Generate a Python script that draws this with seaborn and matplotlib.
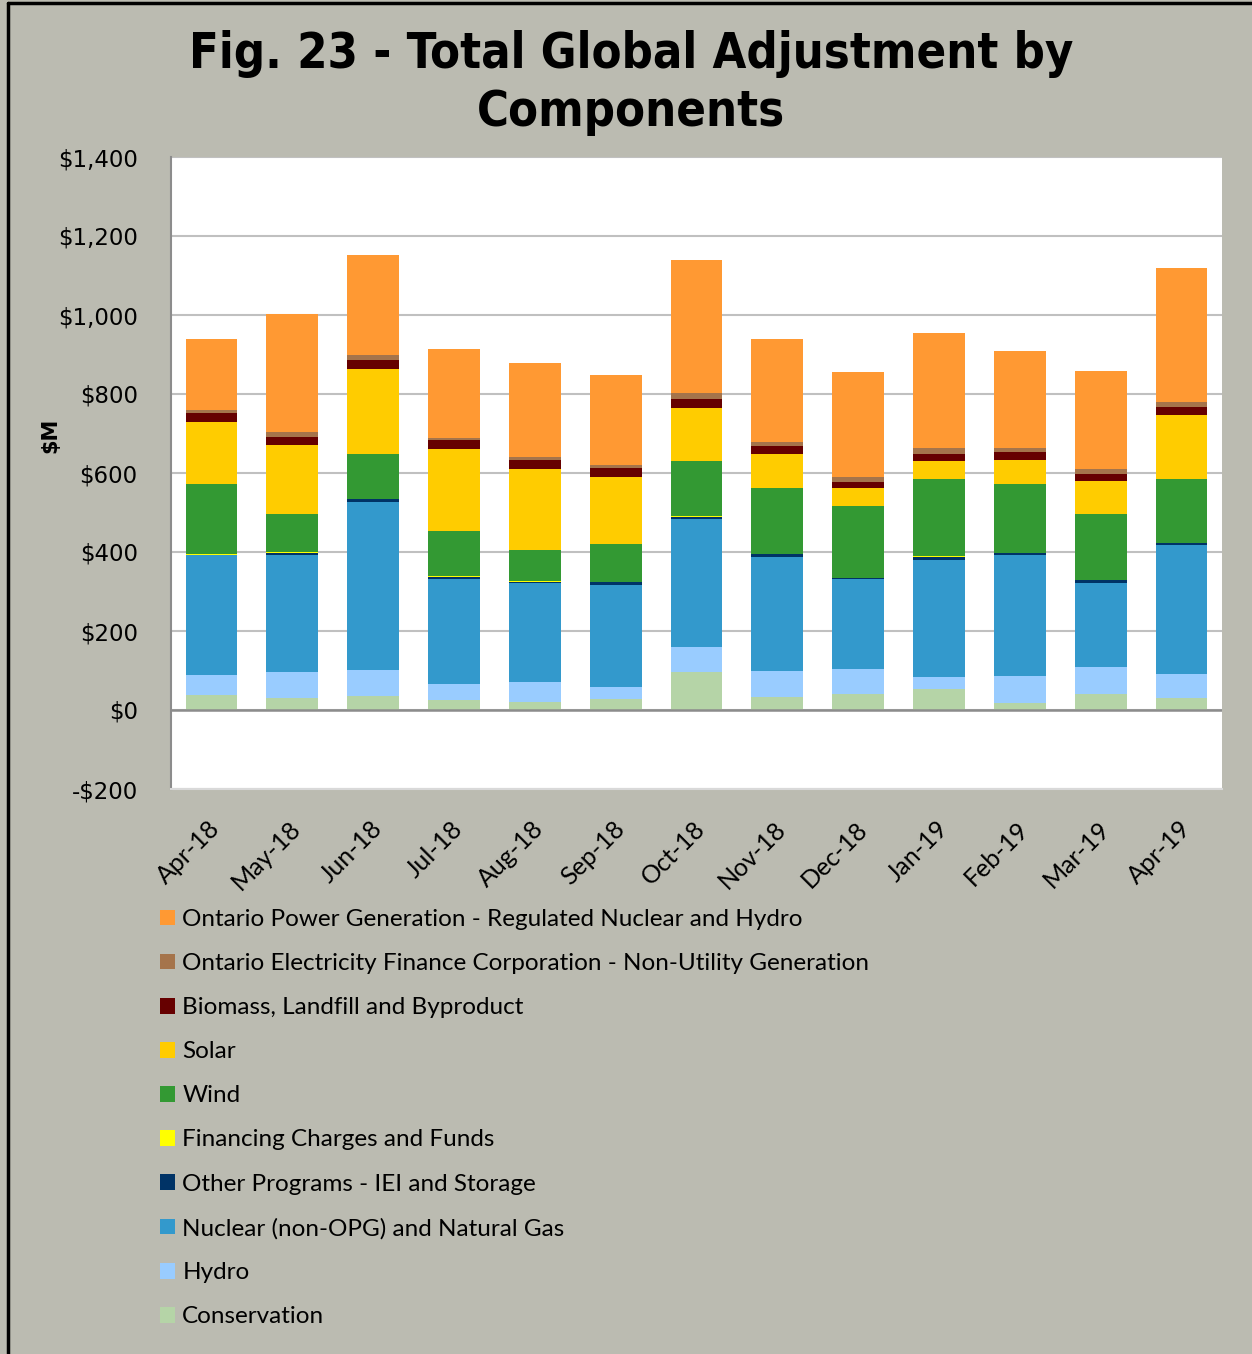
import numpy as np
import pandas as pd
import seaborn as sns
import matplotlib.pyplot as plt
import matplotlib.transforms as mtransforms
from matplotlib.lines import Line2D
from matplotlib.patches import Patch
from matplotlib.ticker import FuncFormatter

# datos ($M)
months = ["Apr-18", "May-18", "Jun-18", "Jul-18", "Aug-18", "Sep-18", "Oct-18",
          "Nov-18", "Dec-18", "Jan-19", "Feb-19", "Mar-19", "Apr-19"]

conservation = [37, 31, 36, 25, 20, 27, 95, 34, 41, 54, 17, 40, 30]
hydro = [52, 65, 65, 41, 51, 31, 64, 65, 63, 30, 69, 69, 61]
nuclear_gas = [303, 296, 426, 266, 250, 258, 324, 289, 228, 297, 306, 213, 326]
other_programs = [1, 6, 7, 5, 4, 7, 6, 7, 1, 6, 5, 6, 5]
financing = [1, 1, 1, 1, 1, 1, 1, 1, 1, 2, 1, 1, 1]
wind = [178, 96, 112, 114, 78, 96, 140, 167, 183, 195, 173, 167, 163]
solar = [157, 175, 216, 209, 205, 170, 134, 86, 44, 47, 62, 85, 160]
biomass = [22, 21, 22, 22, 23, 22, 23, 19, 17, 18, 19, 17, 20]
oefc = [8, 14, 15, 6, 8, 9, 15, 11, 12, 15, 11, 12, 13]
opg = [181, 298, 253, 225, 238, 227, 336, 259, 265, 291, 247, 249, 341]

# orden de apilado, de abajo hacia arriba
series_names = ["Conservation", "Hydro", "Nuclear (non-OPG) and Natural Gas",
                "Other Programs - IEI and Storage", "Financing Charges and Funds",
                "Wind", "Solar", "Biomass, Landfill and Byproduct",
                "Ontario Electricity Finance Corporation - Non-Utility Generation",
                "Ontario Power Generation - Regulated Nuclear and Hydro"]
series_values = [conservation, hydro, nuclear_gas, other_programs, financing,
                 wind, solar, biomass, oefc, opg]
colors = ["#B5D4A7", "#99CCFF", "#3399CC", "#003366", "#FFFF00",
          "#339933", "#FFCC00", "#660000", "#A5744B", "#FF9933"]

df = pd.DataFrame(dict(zip(series_names, series_values)), index=months)
cum = df.cumsum(axis=1)

bg = "#BBBBB1"
sns.set_theme(style="white")
plt.rcParams["font.family"] = ["DejaVu Sans"]
plt.rcParams["text.color"] = "black"

fig = plt.figure(figsize=(12.52, 13.54), dpi=100, facecolor=bg)
ax = fig.add_axes([171 / 1252, 1 - 789 / 1354, (1222 - 171) / 1252, (789 - 157) / 1354])
ax.set_facecolor("white")

# barras apiladas: se dibujan los acumulados de mayor a menor
for name, color in reversed(list(zip(series_names, colors))):
    sns.barplot(x=months, y=cum[name].values, order=months, color=color,
                saturation=1, width=0.64, linewidth=0, errorbar=None,
                ax=ax, zorder=3)

ax.set_xlim(-0.5, len(months) - 0.5)
ax.set_ylim(-200, 1400)
ax.set_yticks(range(-200, 1401, 200))
ax.yaxis.set_major_formatter(FuncFormatter(
    lambda v, p: f"-${abs(v):,.0f}" if v < 0 else f"${v:,.0f}"))
ax.yaxis.grid(True, color="#C0C0C0", linewidth=1.5, zorder=0)
ax.set_axisbelow(True)
ax.axhline(0, color="#8C8C8C", linewidth=1.8, zorder=4)

for s in ["top", "right"]:
    ax.spines[s].set_visible(False)
ax.spines["left"].set_color("#8C8C8C")
ax.spines["left"].set_linewidth(1.5)
ax.spines["bottom"].set_color("#D9D9D9")
ax.spines["bottom"].set_linewidth(1.5)

ax.tick_params(axis="y", length=0, pad=24, labelsize=16.5, labelcolor="black")
ax.tick_params(axis="x", length=0, pad=26, labelcolor="black")
shift = mtransforms.ScaledTranslation(5 / 100, 0, fig.dpi_scale_trans)
for lab in ax.get_xticklabels():
    lab.set_rotation(45)
    lab.set_ha("right")
    lab.set_va("center")
    lab.set_rotation_mode("anchor")
    lab.set_fontfamily("Lato")
    lab.set_fontsize(18)
    lab.set_transform(lab.get_transform() + shift)
ax.set_xlabel("")
ax.set_ylabel("")

fig.text(50 / 1252, 1 - 435 / 1354, "$M", rotation=90, ha="center", va="center",
         fontsize=15, fontweight="bold", color="black")

fig.text(0.504, 1 - 30 / 1354, "Fig. 23 - Total Global Adjustment by\nComponents",
         ha="center", va="top", fontsize=35, fontweight="bold", color="black",
         family=["DejaVu Sans"], fontstretch="condensed", linespacing=1.25)

# leyenda en el orden de Excel (de arriba hacia abajo)
handles = [Patch(facecolor=c, edgecolor="none") for c in reversed(colors)]
labels = list(reversed(series_names))
fig.legend(handles, labels, loc="upper left",
           bbox_to_anchor=(160 / 1252, 1 - 909 / 1354),
           frameon=False, ncol=1, borderpad=0, borderaxespad=0,
           handlelength=0.62, handleheight=0.62, handletextpad=0.3,
           labelspacing=0.95, labelcolor="black",
           prop={"family": "Lato", "size": 17.5})

# marco del grafico (arriba e izquierda)
fig.add_artist(Line2D([8 / 1252, 1], [1 - 3 / 1354, 1 - 3 / 1354],
                      transform=fig.transFigure, color="black", linewidth=2.5))
fig.add_artist(Line2D([8 / 1252, 8 / 1252], [0, 1 - 3 / 1354],
                      transform=fig.transFigure, color="black", linewidth=2.5))

fig.savefig("out.png", dpi=100, facecolor=bg)
